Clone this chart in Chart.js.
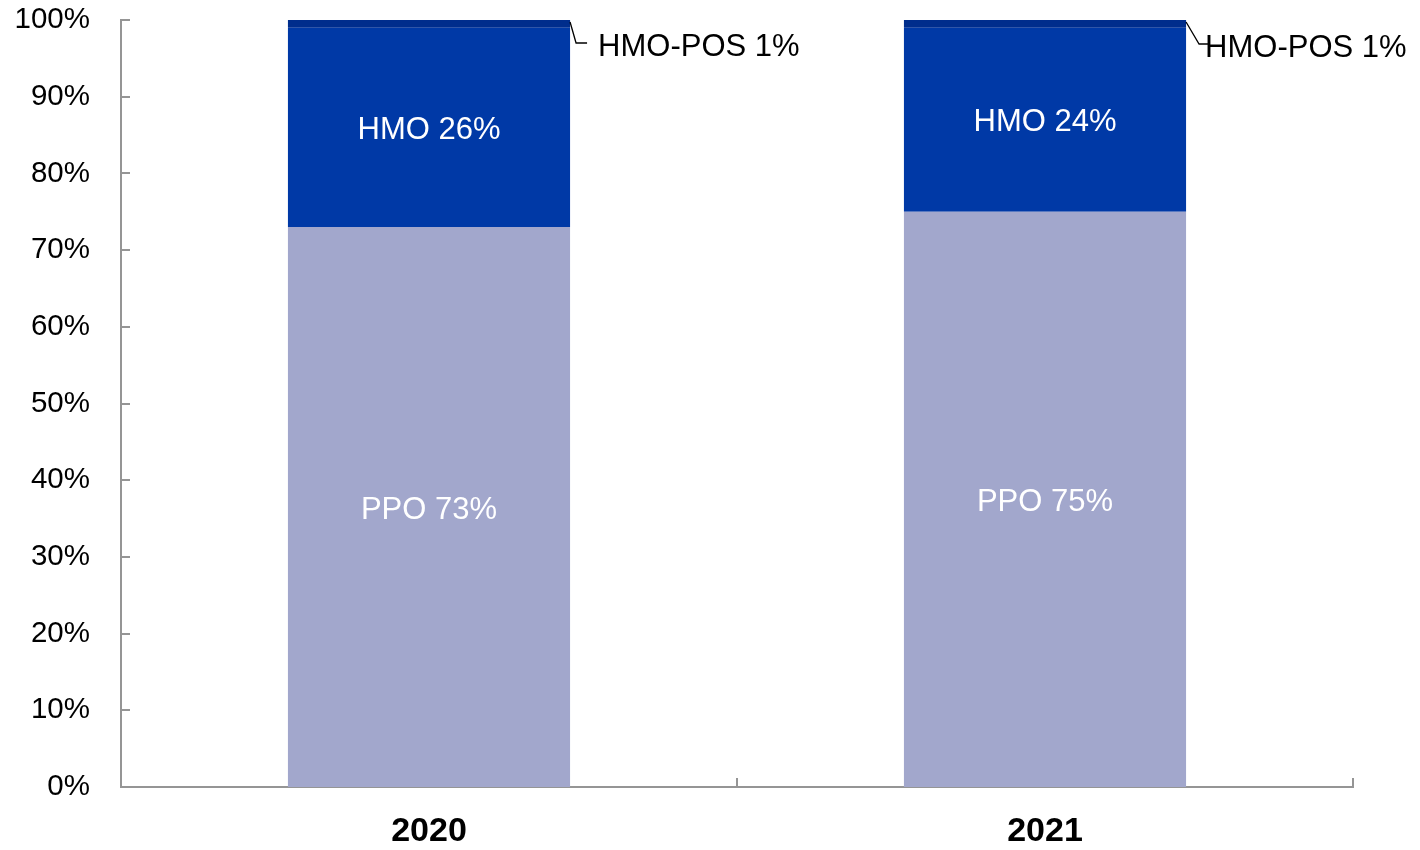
<!DOCTYPE html>
<html>
<head>
<meta charset="utf-8">
<script src="https://cdn.jsdelivr.net/npm/chart.js@4"></script>
<style>
  html, body { margin: 0; padding: 0; background: #ffffff; }
  #wrap { width: 1420px; height: 850px; }
</style>
</head>
<body>
<div id="wrap"><canvas id="c" width="1420" height="850"></canvas></div>
<script>
// ---- data ----
const categories = ['2020', '2021'];
const ppoValues = [73, 75];
const hmoValues = [26, 24];
const hmoPosValues = [1, 1];
const seriesNames = ['PPO', 'HMO', 'HMO-POS'];
const yTickValues = [0, 10, 20, 30, 40, 50, 60, 70, 80, 90, 100];

// ---- styles ----
const colors = ['#A2A7CC', '#0039A6', '#002D8C'];
const FONT = "'Liberation Sans', Arial, sans-serif";
const AXIS_COLOR = '#959595';
// leader-line geometry for the small outside labels (per category)
const outsideLabelStyle = [
  { dx1: 6, dx2: 17, textDx: 28, y: 43 },
  { dx1: 13, dx2: 22, textDx: 19, y: 44 }
];

const labelPlugin = {
  id: 'segLabels',
  afterDatasetsDraw(chart) {
    const ctx = chart.ctx;
    ctx.save();
    chart.data.datasets.forEach((ds, di) => {
      const meta = chart.getDatasetMeta(di);
      meta.data.forEach((bar, i) => {
        const v = ds.data[i];
        const text = ds.label + ' ' + v + '%';
        if (di < 2) {
          ctx.font = '31px ' + FONT;
          ctx.fillStyle = '#ffffff';
          ctx.textAlign = 'center';
          ctx.textBaseline = 'middle';
          ctx.fillText(text, bar.x, (bar.y + bar.base) / 2 + 3);
        } else {
          const st = outsideLabelStyle[i];
          const right = bar.x + bar.width / 2;
          const top = Math.min(bar.y, bar.base);
          ctx.strokeStyle = '#000000';
          ctx.lineWidth = 1.3;
          ctx.beginPath();
          ctx.moveTo(right, top + 2);
          ctx.lineTo(right + st.dx1, st.y);
          ctx.lineTo(right + st.dx2, st.y);
          ctx.stroke();
          ctx.font = '31px ' + FONT;
          ctx.fillStyle = '#000000';
          ctx.textAlign = 'left';
          ctx.textBaseline = 'middle';
          ctx.fillText(text, right + st.textDx, st.y + 4);
        }
      });
    });
    ctx.restore();
  }
};

const tickPlugin = {
  id: 'innerTicks',
  afterDraw(chart) {
    const ctx = chart.ctx;
    const ys = chart.scales.y;
    const area = chart.chartArea;
    ctx.save();
    ctx.strokeStyle = AXIS_COLOR;
    ctx.lineWidth = 2;
    // y ticks pointing into plot
    yTickValues.forEach(v => {
      const py = Math.round(ys.getPixelForValue(v));
      ctx.beginPath();
      ctx.moveTo(area.left, py);
      ctx.lineTo(area.left + 9, py);
      ctx.stroke();
    });
    // x category boundary ticks pointing up
    const n = categories.length;
    const w = (area.right - area.left) / n;
    for (let k = 0; k <= n; k++) {
      const px = Math.round(area.left + k * w);
      ctx.beginPath();
      ctx.moveTo(px, area.bottom);
      ctx.lineTo(px, area.bottom - 9);
      ctx.stroke();
    }
    ctx.restore();
  }
};

new Chart(document.getElementById('c'), {
  type: 'bar',
  data: {
    labels: categories,
    datasets: [
      { label: seriesNames[0], data: ppoValues, backgroundColor: colors[0] },
      { label: seriesNames[1], data: hmoValues, backgroundColor: colors[1] },
      { label: seriesNames[2], data: hmoPosValues, backgroundColor: colors[2] }
    ]
  },
  options: {
    responsive: false,
    animation: false,
    devicePixelRatio: 1,
    layout: { padding: { top: 20, right: 67, left: 0, bottom: 0 } },
    plugins: { legend: { display: false }, tooltip: { enabled: false } },
    datasets: { bar: { categoryPercentage: 1, barPercentage: 0.458, borderWidth: 0 } },
    scales: {
      x: {
        stacked: true,
        grid: { display: false },
        border: { display: true, color: AXIS_COLOR, width: 2 },
        ticks: { color: '#000000', font: { family: FONT, size: 34, weight: 'bold' }, padding: 16 },
        afterFit(s) { s.height = 63; s.paddingLeft = 0; s.paddingRight = 0; }
      },
      y: {
        stacked: true,
        min: 0, max: 100,
        grid: { display: false },
        border: { display: true, color: AXIS_COLOR, width: 2 },
        afterBuildTicks(s) { s.ticks = yTickValues.map(v => ({ value: v })); },
        ticks: {
          color: '#000000',
          font: { family: FONT, size: 29.5 },
          padding: 23,
          callback: v => v + '%'
        },
        afterFit(s) { s.width = 121; s.paddingTop = 0; s.paddingBottom = 0; }
      }
    }
  },
  plugins: [labelPlugin, tickPlugin]
});
</script>
</body>
</html>
